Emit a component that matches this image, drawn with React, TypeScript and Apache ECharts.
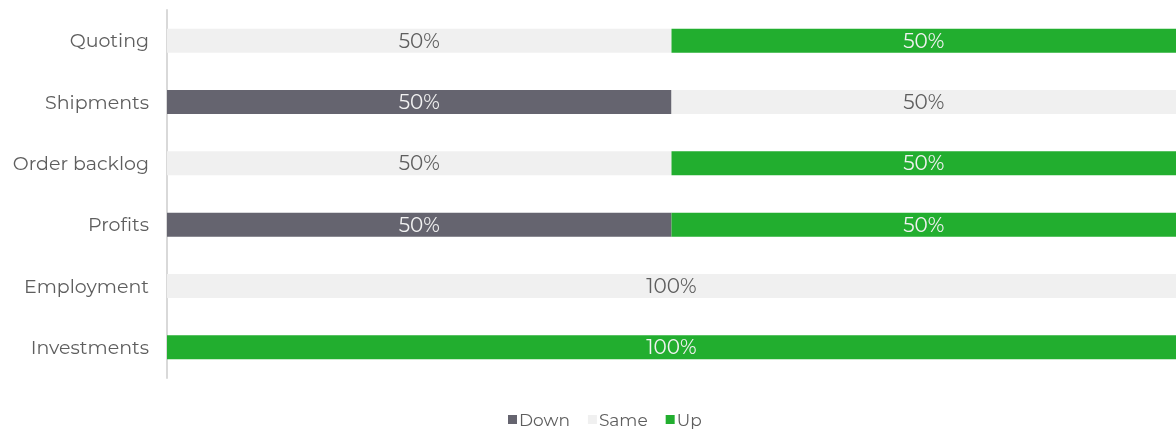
import React, { useEffect, useRef } from "react";
import * as echarts from "echarts";

const categories = ["Quoting", "Shipments", "Order backlog", "Profits", "Employment", "Investments"];
const downValues = [0, 50, 0, 50, 0, 0];
const sameValues = [50, 50, 50, 0, 100, 0];
const upValues = [50, 0, 50, 50, 0, 100];
const seriesNames = ["Down", "Same", "Up"];

const FONT = "Montserrat, 'Open Sans', Lato, sans-serif";

export default function App() {
  const ref = useRef<HTMLDivElement>(null);
  useEffect(() => {
    if (!ref.current) return;
    const chart = echarts.init(ref.current, undefined, { renderer: "svg" });
    const mk = (name: string, data: number[], color: string, labelColor: string) => ({
      name,
      type: "bar",
      stack: "total",
      data,
      barWidth: 24,
      itemStyle: { color },
      label: {
        show: true,
        position: "inside",
        color: labelColor,
        fontSize: 20,
        fontFamily: FONT,
        formatter: (p: any) => (p.value > 0 ? p.value + "%" : ""),
      },
    });
    chart.setOption({
      animation: false,
      textStyle: { fontFamily: FONT },
      grid: { left: 167, right: 0, top: 10, bottom: 55, containLabel: false },
      legend: {
        data: seriesNames,
        bottom: 0,
        left: 503,
        itemWidth: 9,
        itemHeight: 9,
        itemGap: 18,
        icon: "rect",
        textStyle: { color: "#5e5e5e", fontSize: 17, fontFamily: FONT, padding: [0, 0, 0, -3] },
      },
      xAxis: { type: "value", min: 0, max: 100, show: false },
      yAxis: {
        type: "category",
        data: categories,
        inverse: true,
        axisLine: { show: true, lineStyle: { color: "#d9d9d9", width: 2 } },
        axisTick: { show: false },
        axisLabel: { color: "#5e5e5e", fontSize: 19, margin: 18, fontFamily: FONT },
      },
      series: [
        mk(seriesNames[0], downValues, "#65646f", "#f2f2f2"),
        mk(seriesNames[1], sameValues, "#f0f0f0", "#5e5e5e"),
        mk(seriesNames[2], upValues, "#22ae2f", "#f2f2f2"),
      ],
    });
    return () => chart.dispose();
  }, []);
  return (
    <div
      ref={ref}
      style={{ position: "fixed", left: 0, top: 0, width: 1176, height: 433 }}
    />
  );
}
